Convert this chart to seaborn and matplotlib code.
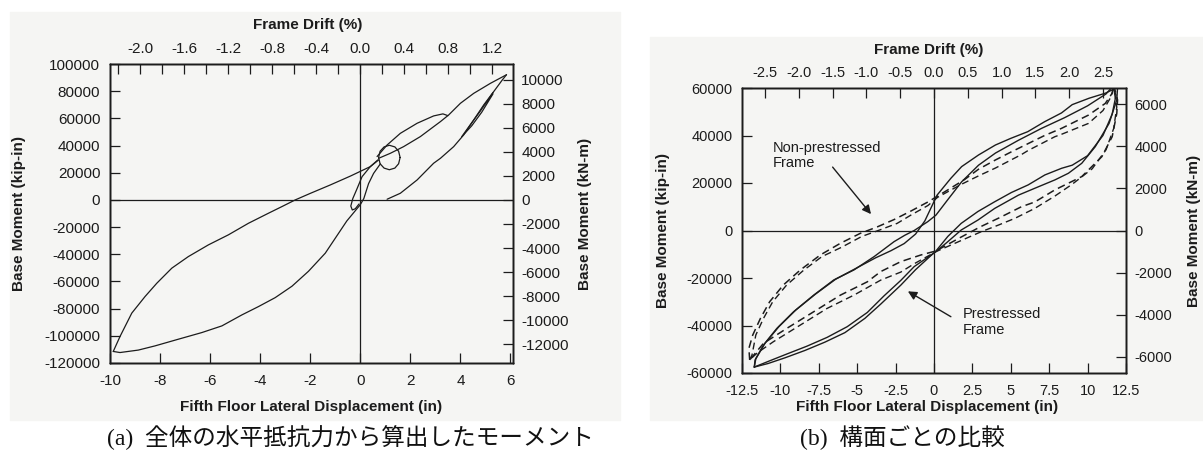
import matplotlib
matplotlib.use("Agg")
import matplotlib.pyplot as plt
import matplotlib.patches as mpatches
import seaborn as sns

# ---- panel (a): total base moment, kip-in vs in ----
a_negup_x = [-9.87, -9.6, -9.13, -8.6, -8.13, -7.53, -6.87, -6.07, -5.27, -4.47, -3.67, -3.13, -2.6, -2.0, -1.2, -0.4, 0.4, 0.73]
a_negup_y = [-111500, -100500, -83300, -71100, -61300, -50200, -41700, -33100, -25700, -17200, -9800, -4900, 0, 4800, 11000, 17500, 24500, 29400]
a_neglo_x = [-9.87, -9.6, -8.87, -8.2, -7.27, -6.33, -5.53, -4.73, -4.07, -3.4, -2.73, -2.07, -1.4, -0.54, 0.0, 0.14, 0.33, 0.53, 0.8]
a_neglo_y = [-111500, -112300, -110500, -107400, -102500, -97600, -92700, -84600, -78500, -71900, -63500, -52500, -39200, -15500, -3500, 1000, 12000, 19500, 26500]
a_lobe_x = [-0.05, -0.2, -0.32, -0.38, -0.3, -0.15, 0.07, 0.4, 0.7]
a_lobe_y = [-3000, -6500, -7400, -4500, 1000, 7400, 17100, 24500, 29400]
a_circ_x = [1.59, 1.53, 1.38, 1.16, 0.95, 0.79, 0.73, 0.79, 0.95, 1.16, 1.38, 1.53, 1.59]
a_circ_y = [31200, 35800, 39000, 40200, 39000, 35800, 31200, 26600, 23400, 22200, 23400, 26600, 31200]
a_midup_x = [0.67, 1.07, 1.6, 2.27, 2.93, 3.3, 3.5]
a_midup_y = [31900, 40400, 49000, 56400, 61800, 63300, 62000]
a_diag_x = [0.73, 1.2, 1.73, 2.4, 2.93, 3.2, 3.53, 4.0, 4.53, 5.2, 5.84]
a_diag_y = [30600, 34300, 39200, 46600, 53900, 57600, 62500, 71100, 78400, 85800, 92100]
a_unld_x = [5.84, 5.67, 5.33, 4.93, 4.53, 4.13, 3.73, 3.2, 2.93, 2.27, 1.6, 1.07]
a_unld_y = [92100, 88200, 79700, 69900, 58800, 47800, 39200, 30600, 27000, 14700, 4900, 500]
a_inner_x = [5.3, 4.8, 4.4, 4.05, 4.45, 4.85, 5.3]
a_inner_y = [79000, 65500, 55500, 46500, 54500, 64500, 78000]

a_xticks = [-10, -8, -6, -4, -2, 0, 2, 4, 6]
a_yticks = [-120000, -100000, -80000, -60000, -40000, -20000, 0, 20000, 40000, 60000, 80000, 100000]
a_knm_ticks = [-12000, -10000, -8000, -6000, -4000, -2000, 0, 2000, 4000, 6000, 8000, 10000]
a_drift_ticks = [-2.2, -2.0, -1.8, -1.6, -1.4, -1.2, -1.0, -0.8, -0.6, -0.4, -0.2, 0.0, 0.2, 0.4, 0.6, 0.8, 1.0, 1.2]
a_drift_labels = ["", "-2.0", "", "-1.6", "", "-1.2", "", "-0.8", "", "-0.4", "", "0.0", "", "0.4", "", "0.8", "", "1.2"]

# ---- panel (b): prestressed (solid) vs non-prestressed (dashed) ----
pre1_x = [-11.7, -11.65, -11.1, -10.23, -9.14, -7.83, -6.52, -5.21, -3.9, -2.6, -1.9, -1.29, -0.41, 0.13, 0.9, 1.8, 2.9, 4.0, 5.5, 7.0, 8.5, 10.0, 11.2, 11.75,
          11.95, 11.9, 11.4, 10.5, 9.62, 8.75, 7.87, 6.79, 5.5, 3.95, 2.86, 1.77, 0.9, 0.13, -1.29, -2.16, -3.25, -4.34, -5.65, -6.96, -8.27, -9.58, -10.67, -11.7]
pre1_y = [-57500, -54500, -48200, -41200, -34200, -27200, -20800, -16600, -11000, -4700, -2000, 0, 3700, 6500, 13000, 20500, 27500, 32600, 38000, 43000, 47500, 52500, 57500, 61500,
          60000, 55000, 45100, 35300, 28300, 24100, 21300, 18400, 14900, 9300, 4400, 200, -4700, -8900, -15200, -21000, -27500, -34500, -40500, -45000, -48700, -52000, -54800, -57500]
pre2_x = [-11.7, -11.6, -11.0, -10.1, -9.0, -7.7, -6.4, -5.1, -3.8, -2.8, -1.94, -1.2, -0.6, 0.2, 1.1, 1.8, 2.9, 4.0, 5.0, 6.1, 7.2, 8.3, 9.0, 10.1, 11.15, 11.7,
          11.85, 11.6, 11.0, 10.0, 9.0, 8.31, 7.22, 6.13, 5.04, 3.95, 2.86, 1.77, 0.9, 0.13, -1.2, -2.16, -3.47, -4.5, -5.8, -7.1, -8.4, -9.7, -10.8, -11.7]
pre2_y = [-57500, -54000, -47500, -40500, -33500, -26700, -20500, -16000, -11500, -8500, -5500, -1500, 4000, 14900, 22000, 26900, 31800, 36000, 38800, 41600, 45800, 49500, 53000, 55700, 57800, 59500,
          57000, 49000, 40000, 31500, 27500, 26200, 23400, 19200, 16000, 12100, 8000, 3000, -2500, -8600, -16500, -23000, -31000, -37000, -43000, -47000, -50500, -53600, -56000, -57500]
non1_x = [-12.0, -12.05, -11.8, -11.3, -10.7, -9.8, -8.7, -7.4, -6.1, -4.8, -3.7, -2.6, -1.5, -0.4, 0.24, 1.0, 2.0, 2.9, 4.0, 5.0, 6.1, 7.2, 8.3, 10.06, 11.15, 11.6, 11.7,
          11.95, 11.9, 11.6, 10.93, 9.62, 7.87, 6.56, 5.69, 4.3, 3.0, 1.7, 0.13, -0.85, -2.16, -3.47, -4.34, -6.09, -7.83, -9.58, -11.1, -12.0]
non1_y = [-54500, -49600, -44000, -37000, -30000, -22900, -16600, -10300, -5400, -1200, 1500, 4600, 8200, 12000, 14500, 17500, 21500, 25800, 29700, 33000, 36500, 40000, 43000, 48600, 53500, 57800, 61300,
          55000, 49300, 39500, 31100, 22700, 17100, 12000, 10000, 5500, 1500, -3000, -8600, -10300, -13100, -17300, -21600, -27200, -34200, -41200, -47500, -54500]
non2_x = [-12.0, -11.85, -11.6, -11.1, -10.5, -9.6, -8.5, -7.3, -6.0, -4.7, -3.5, -2.4, -1.5, -0.4, 0.24, 1.8, 2.9, 4.0, 5.7, 6.13, 7.87, 8.3, 10.06, 11.0, 11.5, 11.7,
          11.9, 11.7, 11.2, 10.3, 9.0, 7.87, 6.56, 5.26, 4.2, 3.08, 1.6, 0.13, -1.29, -2.16, -3.47, -5.21, -6.96, -8.7, -10.45, -11.5, -12.0]
non2_y = [-54500, -52500, -44000, -37000, -30000, -23000, -16800, -11000, -7000, -2500, 300, 3000, 6500, 10500, 14000, 19500, 23000, 26300, 32000, 33700, 39500, 40500, 45100, 50500, 56000, 60000,
          52000, 43000, 34000, 26000, 19500, 14500, 9300, 5100, 2300, -500, -4700, -8900, -14000, -17500, -20900, -27200, -32800, -39800, -46800, -51500, -54500]

b_xticks = [-12.5, -10, -7.5, -5, -2.5, 0, 2.5, 5, 7.5, 10, 12.5]
b_xlabels = ["-12.5", "-10", "-7.5", "-5", "-2.5", "0", "2.5", "5", "7.5", "10", "12.5"]
b_yticks = [-60000, -40000, -20000, 0, 20000, 40000, 60000]
b_knm_ticks = [-6000, -4000, -2000, 0, 2000, 4000, 6000]
b_drift_ticks = [-2.5, -2.0, -1.5, -1.0, -0.5, 0.0, 0.5, 1.0, 1.5, 2.0, 2.5]

KIPIN_PER_KNM = 8.85
IN_PER_PCT = 4.4
INK = "#1c1c1c"

sns.set_theme(style="ticks")
plt.rcParams["font.family"] = ["Liberation Sans", "DejaVu Sans"]
plt.rcParams["axes.unicode_minus"] = False
plt.rcParams["xtick.direction"] = "in"
plt.rcParams["ytick.direction"] = "in"
plt.rcParams["axes.edgecolor"] = INK
plt.rcParams["axes.linewidth"] = 1.0

fig = plt.figure(figsize=(12.03, 4.57), dpi=100)
W, H = 1203, 457
# light grey of the scanned panels
for (x0, y0, x1, y1) in [(10, 12, 620, 420), (650, 37, 1203, 420)]:
    fig.patches.append(mpatches.Rectangle((x0 / W, 1 - y1 / H), (x1 - x0) / W, (y1 - y0) / H,
                                          transform=fig.transFigure, color="#f5f5f3", zorder=-10))

axA = fig.add_axes([110 / W, 1 - 363 / H, 403 / W, 299 / H])
axB = fig.add_axes([742 / W, 1 - 373 / H, 384 / W, 285 / H])


def curve(ax, xs, ys, dashed=False, lw=1.0):
    ls = (0, (5, 3)) if dashed else "-"
    sns.lineplot(x=xs, y=ys, ax=ax, sort=False, estimator=None, color=INK, lw=lw, linestyle=ls)


for xs, ys in [(a_negup_x, a_negup_y), (a_neglo_x, a_neglo_y), (a_lobe_x, a_lobe_y), (a_circ_x, a_circ_y),
               (a_midup_x, a_midup_y), (a_diag_x, a_diag_y), (a_unld_x, a_unld_y), (a_inner_x, a_inner_y)]:
    curve(axA, xs, ys, lw=0.9)

curve(axB, pre1_x, pre1_y)
curve(axB, pre2_x, pre2_y)
curve(axB, non1_x, non1_y, dashed=True, lw=1.1)
curve(axB, non2_x, non2_y, dashed=True, lw=1.0)


def frame(ax, xlim, ylim, xticks, xlabels, yticks, knm_ticks, drift_ticks, drift_labels, fs, coords):
    ax.set_facecolor("none")
    ax.set_xlim(*xlim)
    ax.set_ylim(*ylim)
    ax.axhline(0, color=INK, lw=0.9, zorder=1)
    ax.axvline(0, color=INK, lw=0.9, zorder=1)
    ax.set_xticks(xticks)
    ax.set_xticklabels(xlabels)
    ax.set_yticks(yticks)
    ax.set_yticklabels([str(v) for v in yticks])
    ax.tick_params(length=7, width=0.9, color=INK, labelsize=fs, labelcolor=INK)
    ax.tick_params(axis="x", pad=8)
    ax.tick_params(axis="y", pad=7)

    axr = ax.twinx()
    axr.set_ylim(ylim[0] / KIPIN_PER_KNM, ylim[1] / KIPIN_PER_KNM)
    axr.set_yticks(knm_ticks)
    axr.set_yticklabels([str(v) for v in knm_ticks])
    axr.tick_params(length=7, width=0.9, color=INK, labelsize=fs, labelcolor=INK, pad=6)

    axt = ax.twiny()
    axt.set_xlim(xlim[0] / IN_PER_PCT, xlim[1] / IN_PER_PCT)
    axt.set_xticks(drift_ticks)
    axt.set_xticklabels(drift_labels)
    axt.tick_params(length=7, width=0.9, color=INK, labelsize=fs, labelcolor=INK, pad=6)

    lab = dict(fontsize=11, fontweight="bold", color=INK)
    ax.set_xlabel("Fifth Floor Lateral Displacement (in)", **lab)
    ax.set_ylabel("Base Moment (kip-in)", **lab)
    axr.set_ylabel("Base Moment (kN-m)", **lab)
    axt.set_xlabel("Frame Drift (%)", **lab)
    ax.xaxis.set_label_coords(*coords[0])
    ax.yaxis.set_label_coords(*coords[1])
    axr.yaxis.set_label_coords(*coords[2])
    axt.xaxis.set_label_coords(*coords[3])
    for t in (ax.xaxis.label, axt.xaxis.label, ax.yaxis.label, axr.yaxis.label):
        t.set_verticalalignment("center")
        t.set_horizontalalignment("center")


frame(axA, (-10, 6.1), (-120000, 100000), a_xticks, [str(v) for v in a_xticks], a_yticks,
      a_knm_ticks, a_drift_ticks, a_drift_labels, 11,
      [(0.5, -0.147), (-0.226, 0.5), (1.179, 0.5), (0.49, 1.13)])
frame(axB, (-12.5, 12.5), (-60000, 60000), b_xticks, b_xlabels, b_yticks,
      b_knm_ticks, b_drift_ticks, ["%.1f" % v for v in b_drift_ticks], 10.5,
      [(0.482, -0.119), (-0.206, 0.5), (1.177, 0.5), (0.487, 1.133)])

arrow = dict(arrowstyle="-|>", color=INK, lw=1.0, mutation_scale=13, shrinkA=0, shrinkB=0)
axB.text(-10.5, 31600, "Non-prestressed\nFrame", fontsize=10.5, color=INK, ha="left", va="center", linespacing=1.15)
axB.annotate("", xy=(-4.1, 6900), xytext=(-6.6, 26700), arrowprops=arrow)
axB.text(1.9, -38500, "Prestressed\nFrame", fontsize=10.5, color=INK, ha="left", va="center", linespacing=1.15)
axB.annotate("", xy=(-1.7, -25600), xytext=(1.1, -36300), arrowprops=arrow)

cap_font = ["Liberation Serif", "Noto Sans CJK JP"]
fig.text(350 / W, 1 - 438 / H, "(a)  全体の水平抵抗力から算出したモーメント", family=cap_font,
         fontsize=17, ha="center", va="center", color="#111111")
fig.text(902 / W, 1 - 438 / H, "(b)  構面ごとの比較", family=cap_font,
         fontsize=17, ha="center", va="center", color="#111111")

fig.savefig("out.png", dpi=100, facecolor="white")
